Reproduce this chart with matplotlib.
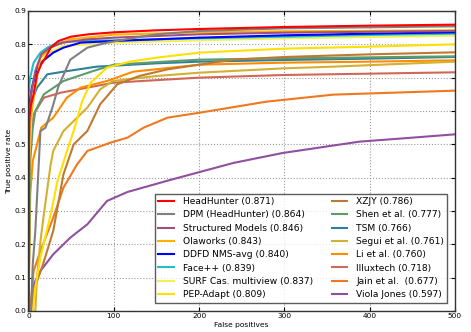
import matplotlib
matplotlib.use("Agg")
import matplotlib.pyplot as plt

# ROC-style curves (false positives vs true positive rate)
headhunter_fp = [0, 1, 3, 6, 10, 15, 20, 26, 35, 50, 70, 100, 150, 200, 300, 400, 500]
headhunter_tp = [0, 0.58, 0.62, 0.65, 0.71, 0.74, 0.76, 0.79, 0.81, 0.823, 0.83, 0.836, 0.842, 0.846, 0.852, 0.856, 0.859]

dpm_fp = [3, 5, 8, 14, 20, 28, 35, 49, 69, 92, 130, 150, 200, 300, 400, 500]
dpm_tp = [0, 0.14, 0.24, 0.54, 0.55, 0.61, 0.673, 0.754, 0.79, 0.805, 0.822, 0.83, 0.84, 0.848, 0.851, 0.854]

structured_fp = [0, 0, 3, 8, 15, 25, 40, 70, 100, 200, 300, 500]
structured_tp = [0, 0.55, 0.65, 0.72, 0.77, 0.79, 0.805, 0.815, 0.82, 0.83, 0.835, 0.84]

olaworks_fp = [0, 0, 2, 8, 14, 26, 49, 100, 200, 300, 500]
olaworks_tp = [0, 0.5, 0.57, 0.67, 0.76, 0.79, 0.815, 0.829, 0.836, 0.839, 0.842]

ddfd_fp = [0, 0, 4, 10, 17, 29, 41, 61, 100, 200, 300, 400, 500]
ddfd_tp = [0, 0.6, 0.67, 0.73, 0.75, 0.775, 0.79, 0.805, 0.81, 0.82, 0.827, 0.832, 0.836]

facepp_fp = [0, 0, 2, 6, 10, 14, 22, 34, 60, 100, 200, 300, 400, 500]
facepp_tp = [0, 0.65, 0.7, 0.745, 0.76, 0.775, 0.79, 0.805, 0.81, 0.812, 0.818, 0.823, 0.828, 0.832]

surf_fp = [0, 1, 4, 10, 20, 40, 100, 200, 300, 500]
surf_tp = [0, 0.45, 0.62, 0.72, 0.77, 0.795, 0.805, 0.812, 0.818, 0.826]

pep_fp = [5, 8, 14, 26, 34, 49, 53, 63, 73, 92, 119, 150, 200, 300, 400, 500]
pep_tp = [0, 0.07, 0.16, 0.29, 0.39, 0.51, 0.54, 0.63, 0.685, 0.73, 0.748, 0.76, 0.775, 0.787, 0.793, 0.80]

xzjy_fp = [4, 6, 17, 29, 41, 53, 69, 84, 104, 130, 163, 240, 300, 400, 500]
xzjy_tp = [0, 0.06, 0.14, 0.24, 0.41, 0.5, 0.54, 0.62, 0.68, 0.705, 0.725, 0.754, 0.762, 0.77, 0.776]

shen_fp = [0, 2, 5, 8, 18, 41, 76, 100, 200, 300, 400, 500]
shen_tp = [0, 0.45, 0.55, 0.6, 0.65, 0.69, 0.72, 0.739, 0.754, 0.758, 0.761, 0.764]

tsm_fp = [0, 1, 2, 10, 22, 41, 80, 150, 200, 300, 400, 500]
tsm_tp = [0, 0.5, 0.62, 0.67, 0.71, 0.718, 0.733, 0.743, 0.748, 0.753, 0.757, 0.762]

segui_fp = [8, 10, 14, 18, 26, 29, 41, 49, 69, 84, 99, 150, 201, 300, 357, 500]
segui_tp = [0, 0.1, 0.21, 0.29, 0.44, 0.48, 0.54, 0.56, 0.61, 0.665, 0.69, 0.705, 0.715, 0.728, 0.733, 0.748]

li_fp = [0, 2, 5, 15, 29, 45, 61, 92, 123, 201, 300, 400, 500]
li_tp = [0, 0.35, 0.45, 0.55, 0.58, 0.64, 0.67, 0.69, 0.718, 0.739, 0.745, 0.748, 0.752]

illuxtech_fp = [0, 2, 6, 18, 38, 69, 100, 200, 300, 400, 500]
illuxtech_tp = [0, 0.5, 0.59, 0.64, 0.655, 0.67, 0.685, 0.70, 0.708, 0.712, 0.716]

jain_fp = [2, 6, 14, 29, 41, 57, 69, 96, 116, 135, 163, 201, 279, 357, 500]
jain_tp = [0, 0.12, 0.18, 0.28, 0.37, 0.44, 0.48, 0.505, 0.52, 0.55, 0.58, 0.595, 0.628, 0.649, 0.661]

viola_fp = [5, 8, 14, 29, 49, 69, 92, 116, 166, 240, 298, 388, 450, 500]
viola_tp = [0.07, 0.09, 0.12, 0.17, 0.22, 0.26, 0.33, 0.357, 0.393, 0.444, 0.474, 0.508, 0.52, 0.53]

labels = ["HeadHunter (0.871)", "DPM (HeadHunter) (0.864)", "Structured Models (0.846)",
          "Olaworks (0.843)", "DDFD NMS-avg (0.840)", "Face++ (0.839)",
          "SURF Cas. multiview (0.837)", "PEP-Adapt (0.809)", "XZJY (0.786)",
          "Shen et al. (0.777)", "TSM (0.766)", "Segui et al. (0.761)",
          "Li et al. (0.760)", "Illuxtech (0.718)", "Jain et al.  (0.677)",
          "Viola Jones (0.597)"]
colors = ["#ff0000", "#808080", "#a05080", "#ffb000", "#0000ff", "#20c0c8",
          "#f4f050", "#ffe000", "#c07a30", "#5c9c6c", "#30809a", "#d4b030",
          "#ff8c00", "#d06858", "#f07820", "#9050a0"]
curves = [(headhunter_fp, headhunter_tp), (dpm_fp, dpm_tp), (structured_fp, structured_tp),
          (olaworks_fp, olaworks_tp), (ddfd_fp, ddfd_tp), (facepp_fp, facepp_tp),
          (surf_fp, surf_tp), (pep_fp, pep_tp), (xzjy_fp, xzjy_tp), (shen_fp, shen_tp),
          (tsm_fp, tsm_tp), (segui_fp, segui_tp), (li_fp, li_tp),
          (illuxtech_fp, illuxtech_tp), (jain_fp, jain_tp), (viola_fp, viola_tp)]

fig = plt.figure(figsize=(4.71, 3.32), dpi=100)
ax = fig.add_axes([0.0605, 0.0633, 0.9055, 0.9036])

# draw in reverse so the top methods sit on top
for (fp, tp), lab, col in reversed(list(zip(curves, labels, colors))):
    ax.plot(fp, tp, color=col, lw=1.5, label=lab)

ax.set_xlim(0, 500)
ax.set_ylim(0, 0.9)
ax.set_xticks([0, 100, 200, 300, 400, 500])
ax.set_yticks([0.0, 0.1, 0.2, 0.3, 0.4, 0.5, 0.6, 0.7, 0.8, 0.9])
ax.grid(True, color="#999999", linestyle=":", linewidth=0.8)
ax.tick_params(labelsize=5.3, direction="in", top=True, right=True, length=3,
               width=0.8, pad=1.5)
for s in ax.spines.values():
    s.set_color("#333333")
    s.set_linewidth(1.0)
ax.set_xlabel("False positives", fontsize=5.4, labelpad=2)
ax.set_ylabel("True positive rate", fontsize=5.4, labelpad=2)

handles, labs = ax.get_legend_handles_labels()
handles, labs = handles[::-1], labs[::-1]
leg = ax.legend(handles, labs, loc="lower right", ncol=2, fontsize=6.6,
                handlelength=1.7, handletextpad=1.0, columnspacing=2.0,
                labelspacing=0.47, borderpad=0.35, fancybox=False,
                bbox_to_anchor=(0.993, 0.013))
leg.get_frame().set_edgecolor("#333333")
leg.get_frame().set_linewidth(1.0)

fig.savefig("out.png", dpi=100)
